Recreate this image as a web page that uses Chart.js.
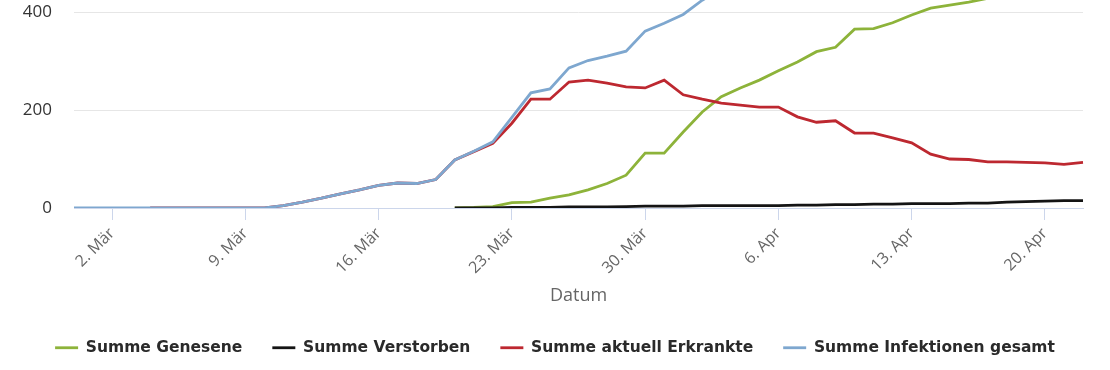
<!DOCTYPE html>
<html>
<head>
<meta charset="utf-8">
<script src="https://cdn.jsdelivr.net/npm/chart.js@4/dist/chart.umd.min.js"></script>
<style>
  html, body { margin: 0; padding: 0; background: #fff; }
  #wrap { width: 1110px; height: 370px; }
</style>
</head>
<body>
<div id="wrap"><canvas id="chart"></canvas></div>
<script>
// days from 29. Feb to 22. Apr 2020
const days = [
  '29. Feb', '1. Mär', '2. Mär', '3. Mär', '4. Mär', '5. Mär', '6. Mär', '7. Mär', '8. Mär', '9. Mär',
  '10. Mär', '11. Mär', '12. Mär', '13. Mär', '14. Mär', '15. Mär', '16. Mär', '17. Mär', '18. Mär', '19. Mär',
  '20. Mär', '21. Mär', '22. Mär', '23. Mär', '24. Mär', '25. Mär', '26. Mär', '27. Mär', '28. Mär', '29. Mär',
  '30. Mär', '31. Mär', '1. Apr', '2. Apr', '3. Apr', '4. Apr', '5. Apr', '6. Apr', '7. Apr', '8. Apr',
  '9. Apr', '10. Apr', '11. Apr', '12. Apr', '13. Apr', '14. Apr', '15. Apr', '16. Apr', '17. Apr', '18. Apr',
  '19. Apr', '20. Apr', '21. Apr', '22. Apr'
]
const tickLabels = ['2. Mär', '9. Mär', '16. Mär', '23. Mär', '30. Mär', '6. Apr', '13. Apr', '20. Apr']
const yTicks = [0, 200, 400]

const genesene = [
  null, null, null, null, null, null, null, null, null, null,
  null, null, null, null, null, null, null, null, null, null,
  0, 1, 3, 11, 12, 20, 27, 37, 50, 67,
  112, 112, 155, 196, 227, 245, 261, 280, 298, 319,
  328, 365, 366, 378, 394, 408, 414, 420, 428, 433,
  438, 443, 448, 452
]
const verstorben = [
  null, null, null, null, null, null, null, null, null, null,
  null, null, null, null, null, null, null, null, null, null,
  0, 0, 0, 1, 1, 1, 2, 2, 2, 3,
  4, 4, 4, 5, 5, 5, 5, 5, 6, 6,
  7, 7, 8, 8, 9, 9, 9, 10, 10, 12,
  13, 14, 15, 15
]
const erkrankte = [
  null, null, null, null, 0, 0, 0, 0, 0, 0,
  0, 5, 12, 20, 29, 37, 46, 51, 50, 58,
  98, 115, 132, 173, 222, 222, 257, 261, 255, 247,
  245, 261, 231, 222, 214, 210, 206, 206, 186, 175,
  178, 153, 153, 143, 133, 110, 100, 99, 94, 94,
  93, 92, 89, 93
]
const gesamt = [
  0, 0, 0, 0, 0, 0, 0, 0, 0, 0,
  0, 5, 12, 20, 29, 37, 46, 51, 50, 58,
  98, 116, 135, 185, 235, 243, 286, 301, 310, 320,
  361, 377, 395, 424, 447, 461, 473, 492, 496, 503,
  513, 525, 527, 530, 537, 540, 543, 546, 549, 552,
  555, 558, 561, 564
]

const line = (label, data, color, order) => ({
  label, data, order,
  borderColor: color,
  backgroundColor: color,
  borderWidth: 2.8,
  pointRadius: 0,
  pointHoverRadius: 0,
  tension: 0,
  fill: false
})

new Chart(document.getElementById('chart'), {
  type: 'line',
  data: {
    labels: days,
    datasets: [
      line('Summe Genesene', genesene, '#8db33a', 3),
      line('Summe Verstorben', verstorben, '#141414', 2),
      line('Summe aktuell Erkrankte', erkrankte, '#bd2830', 1),
      line('Summe Infektionen gesamt', gesamt, '#7ea7cf', 0)
    ]
  },
  options: {
    responsive: true,
    maintainAspectRatio: false,
    animation: false,
    layout: { padding: { left: 0, right: 0, top: 0, bottom: 0 } },
    scales: {
      x: {
        grid: { drawOnChartArea: false, color: '#ccd6eb', tickLength: 12 },
        border: { color: '#ccd6eb' },
        ticks: {
          autoSkip: false,
          minRotation: 45,
          maxRotation: 45,
          padding: 4,
          color: '#666',
          font: { family: 'Open Sans', size: 16 },
          callback: function (v, i) {
            const l = days[i]
            return tickLabels.includes(l) ? l : null
          }
        },
        title: {
          display: true,
          text: 'Datum',
          color: '#666',
          font: { family: 'Open Sans', size: 18 },
          padding: { top: 0, bottom: 3 }
        },
        afterFit: (s) => {
          s.height = 102
          s.paddingLeft = 0
          s.paddingRight = 0
        }
      },
      y: {
        min: 0,
        max: 424.5,
        grid: { color: '#e6e6e6', drawTicks: false },
        border: { display: false },
        ticks: {
          padding: 22,
          color: '#333',
          font: { family: 'Open Sans', size: 17 }
        },
        afterBuildTicks: (s) => {
          s.ticks = yTicks.map((v) => ({ value: v }))
        },
        afterFit: (s) => {
          s.width = 74
          s.paddingTop = 0
          s.paddingBottom = 0
        }
      },
      y2: {
        position: 'right',
        grid: { display: false },
        border: { display: false },
        ticks: { display: false },
        afterFit: (s) => { s.width = 27 }
      }
    },
    plugins: {
      tooltip: { enabled: false },
      legend: {
        position: 'bottom',
        labels: {
          usePointStyle: true,
          pointStyle: 'line',
          pointStyleWidth: 23,
          padding: 30,
          color: '#2a2a2a',
          font: { family: 'DejaVu Sans', size: 15.5, weight: 'bold' },
          sort: (a, b) => a.datasetIndex - b.datasetIndex
        }
      }
    }
  },
  plugins: [{
    id: 'legendHeight',
    beforeInit(chart) {
      const fit = chart.legend.fit
      chart.legend.fit = function () {
        fit.call(this)
        this.height = 60
      }
    }
  }]
})
</script>
</body>
</html>
